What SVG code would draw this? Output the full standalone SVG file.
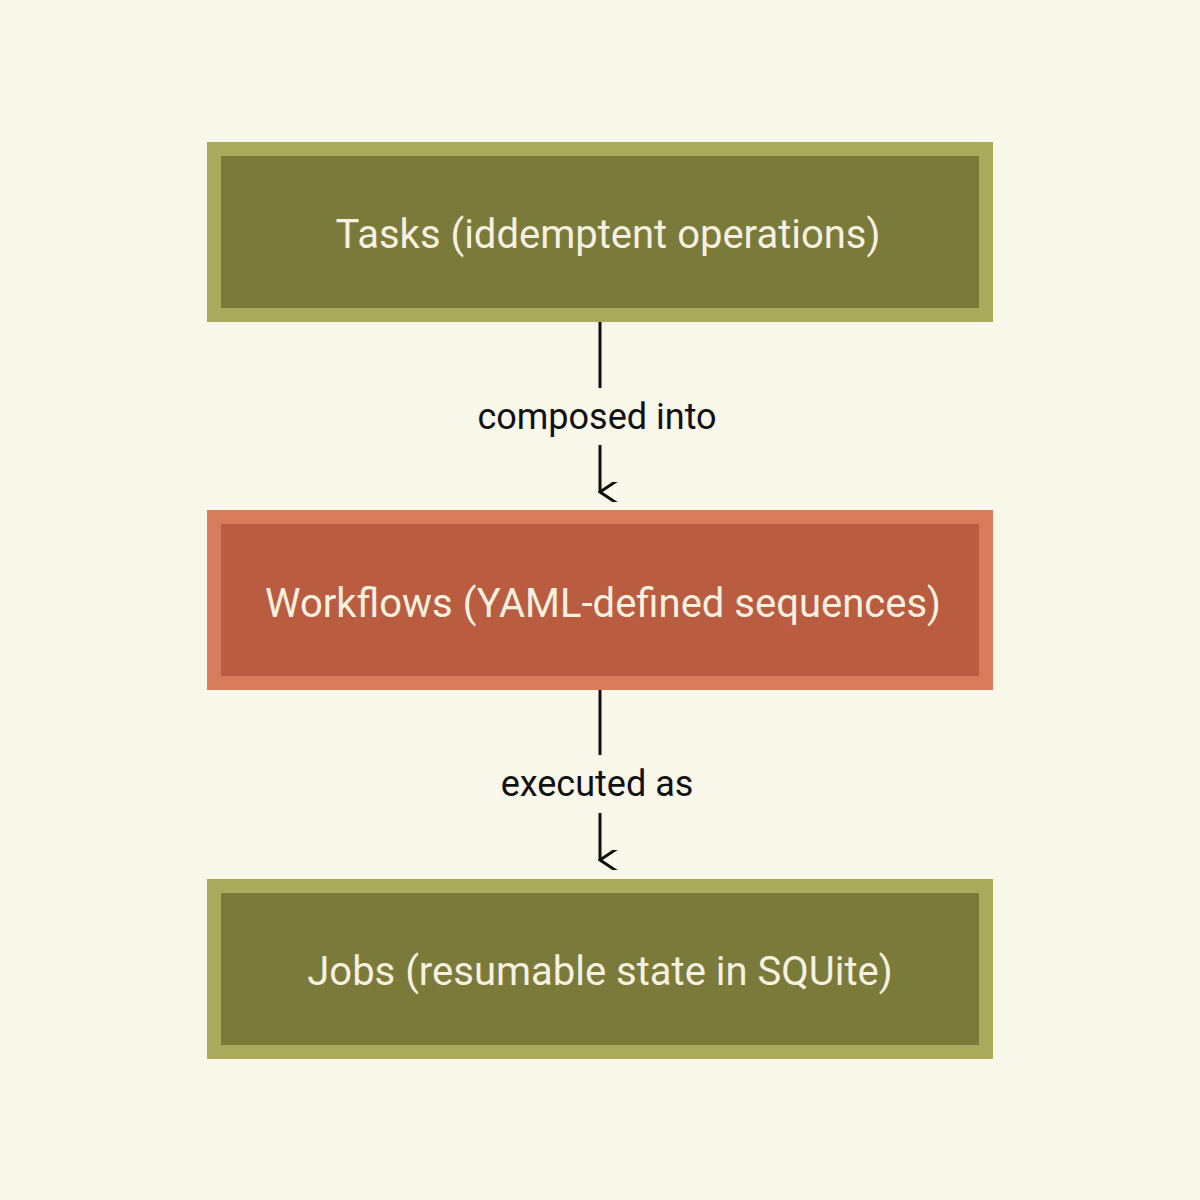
<svg xmlns="http://www.w3.org/2000/svg" width="1200" height="1200" viewBox="0 0 1200 1200">
<defs>
<style>
.olive{fill:#7a7a3b;stroke:#a9aa5b;stroke-width:14}
.red{fill:#ba5c40;stroke:#d97c5b;stroke-width:14}
.t{font-family:Roboto,"Noto Sans",sans-serif;font-size:40px;fill:#f5f0e0;text-anchor:middle}
.l{font-family:Roboto,"Noto Sans",sans-serif;font-size:36px;fill:#111;text-anchor:middle}
.c{stroke:#111;stroke-width:3;fill:none}
</style>
<marker id="ah" viewBox="0 0 20 20" refX="10" refY="18" markerWidth="20" markerHeight="20" markerUnits="userSpaceOnUse" orient="auto-start-reverse">
<path d="M-2 0 L10 18 L22 0" fill="none" stroke="#111" stroke-width="3"/>
</marker>
</defs>
<rect width="1200" height="1200" fill="#f9f6ea"/>
<g id="tasks"><rect class="olive" x="214" y="149" width="772" height="166"/><text class="t" x="608" y="248">Tasks (iddemptent operations)</text></g>
<g id="workflows"><rect class="red" x="214" y="517" width="772" height="166"/><text class="t" x="603" y="617">Workflows (YAML-defined sequences)</text></g>
<g id="jobs"><rect class="olive" x="214" y="886" width="772" height="166"/><text class="t" x="600" y="985">Jobs (resumable state in SQUite)</text></g>
<g id="connectors">
<line class="c" x1="600" y1="322" x2="600" y2="388"/>
<text class="l" x="597" y="429">composed into</text>
<path class="c" d="M600 445 V492" marker-end="url(#ah)"/>
<line class="c" x1="600" y1="690" x2="600" y2="755"/>
<text class="l" x="597" y="796">executed as</text>
<path class="c" d="M600 813 V860" marker-end="url(#ah)"/>
</g>
</svg>
